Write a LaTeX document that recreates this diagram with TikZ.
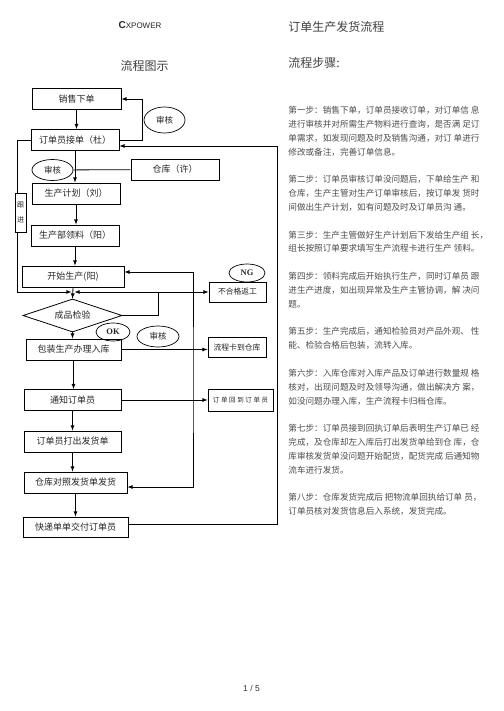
\documentclass[tikz,border=0pt]{standalone}
\usepackage{fontspec}
\setmainfont{Liberation Serif}
\newfontfamily\cjk{Noto Sans CJK SC}
\newfontfamily\arial{Liberation Sans}
\usetikzlibrary{arrows,shapes.geometric}

\tikzset{
  box/.style={draw, line width=0.8pt, minimum height=21pt, inner sep=0pt, text=black!85, font=\cjk\fontsize{9}{11}\selectfont},
  smallbox/.style={box, minimum height=20pt, font=\cjk\fontsize{7.8}{9}\selectfont},
  oval/.style={ellipse, draw, line width=0.7pt, inner sep=0pt, text=black!85, font=\cjk\fontsize{8.5}{10}\selectfont},
  steptext/.style={anchor=north west, align=left, inner sep=0pt, text=black!70, font=\cjk\fontsize{8.6}{13.83}\selectfont},
  heading/.style={inner sep=0pt, text=black!75, font=\cjk\fontsize{12}{14}\selectfont},
}

\begin{document}
\begin{tikzpicture}[x=1pt, y=-1pt, >=latex, line width=0.8pt]
  \useasboundingbox (0,0) rectangle (503,711);
  \fill[white] (0,0) rectangle (503,711);

  % headings
  \node[inner sep=0pt, text=black!85] (logo) at (140,25) {\arial\fontsize{10}{12}\selectfont\textbf{C}\fontsize{8}{10}\selectfont XPOWER};
  \node[heading] (charttitle) at (144.5,66) {流程图示};
  \node[heading, anchor=west] (doctitle) at (288,27) {订单生产发货流程};
  \node[heading, anchor=west] (stepstitle) at (288,63) {流程步骤:};

  % flow chart
  \node[box, minimum width=89pt] (sale)    at (76.5,99)   {销售下单};
  \node[box, minimum width=88pt] (receive) at (75,140)    {订单员接单（杜）};
  \node[oval, minimum width=41pt, minimum height=26pt] (check1) at (164.5,120) {审核};
  \node[oval, minimum width=41pt, minimum height=21pt] (check2) at (52.5,170) {审核};
  \node[box, minimum width=88pt] (store)   at (175,169.5) {仓库（许）};
  \node[box, minimum width=88pt] (plan)    at (76,193.5)  {生产计划（刘）};
  \node[box, minimum width=88pt] (pick)    at (75,235.5)  {生产部领料（阳）};
  \node[box, minimum width=102pt] (start)  at (73,276.5)  {开始生产(阳)};
  \node[diamond, draw, aspect=3, inner sep=0pt, minimum width=99pt, minimum height=33pt,
        text=black!85, font=\cjk\fontsize{9}{11}\selectfont] (inspect) at (72.5,315.5) {成品检验};
  \node[oval, minimum width=34pt, minimum height=18pt, font=\fontsize{8.5}{10}\selectfont\bfseries] (ok) at (113,332) {OK};
  \node[oval, minimum width=42pt, minimum height=21pt] (check3) at (158,336.5) {审核};
  \node[box, minimum width=95pt] (pack)    at (73.5,349.5) {包装生产办理入库};
  \node[box, minimum width=97pt] (notify)  at (72.5,400)   {通知订单员};
  \node[box, minimum width=97pt] (print)   at (72.5,441.5) {订单员打出发货单};
  \node[box, minimum width=103pt] (ship)   at (75.5,482.5) {仓库对照发货单发货};
  \node[box, minimum width=105pt, minimum height=20pt] (express) at (75.5,527) {快递单单交付订单员};

  \node[smallbox, minimum width=57pt] (rework) at (237.5,292) {不合格返工};
  \node[oval, minimum width=36pt, minimum height=18pt, font=\fontsize{8.5}{10}\selectfont\bfseries] (ng) at (247,273) {NG};
  \node[smallbox, minimum width=58pt] (card) at (237,347.5) {流程卡到仓库};
  \node[smallbox, minimum width=65pt, minimum height=22pt, font=\cjk\fontsize{6.5}{8}\selectfont\addfontfeature{LetterSpace=25}] (back) at (240.5,400) {订单回到订单员};
  \node[draw, line width=0.7pt, minimum width=11pt, minimum height=39pt, inner sep=0pt, align=center,
        text=black!85, font=\cjk\fontsize{7}{15}\selectfont] (follow) at (20.5,212.5) {跟\\进};

  \coordinate (merge) at (73,292);
  \coordinate (fork)  at (158,292);
  \coordinate (riser) at (193,380);
  \coordinate (rim)   at (277,146);

  % main column
  \foreach \a/\b in {sale/receive, receive/plan, plan/pick, pick/start, inspect/pack,
                     pack/notify, notify/print, print/ship, ship/express}
    \draw[->] (\a.south) -- (\a.south |- \b.north);
  \draw[->] (start.south) -- (inspect.north);

  % loops and side branches
  \draw[->] (receive.east) -| ([xshift=-1pt]check1.west) |- (sale.east);
  \draw (check2) -- (store);
  \draw (receive.west) -| ([xshift=-3.5pt]follow.north);
  \draw[->] ([xshift=-3.5pt]follow.south) |- ([xshift=-1.5pt]merge);
  \draw (inspect.east) -| (fork);
  \draw[->] (fork) -- ([xshift=1.5pt]merge);
  \draw[->] (fork) -- (rework.west);
  \draw[->] (pack.east) -- (pack.east -| card.west);
  \draw[->] (notify.east) -- (notify.east -| back.west);
  \draw[<->] ([yshift=4.5pt]start.east) -| (riser) |- ([yshift=-4.5pt]ship.east);
  \draw[->] ([yshift=3pt]express.east) -| (rim) -- (rim -| receive.east);

  % steps
  \node[steptext] (step1) at (288,106) {第一步：销售下单，订单员接收订单，对订单信 息\\
    进行审核并对所需生产物料进行查询，是否满 足订\\
    单需求，如发现问题及时及销售沟通，对订 单进行\\
    修改或备注，完善订单信息。};
  \node[steptext] (step2) at (288,175) {第二步：订单员审核订单没问题后，下单给生产 和\\
    仓库，生产主管对生产订单审核后，按订单发 货时\\
    间做出生产计划，如有问题及时及订单员沟 通。};
  \node[steptext] (step3) at (288,230.5) {第三步：生产主管做好生产计划后下发给生产组 长，\\
    组长按照订单要求填写生产流程卡进行生产 领料。};
  \node[steptext] (step4) at (288,272) {第四步：领料完成后开始执行生产，同时订单员 跟\\
    进生产进度，如出现异常及生产主管协调，解 决问\\
    题。};
  \node[steptext] (step5) at (288,327) {第五步：生产完成后，通知检验员对产品外观、 性\\
    能、检验合格后包装，流转入库。};
  \node[steptext] (step6) at (288,369) {第六步：入库仓库对入库产品及订单进行数量规 格\\
    核对，出现问题及时及领导沟通，做出解决方 案，\\
    如没问题办理入库，生产流程卡归档仓库。};
  \node[steptext] (step7) at (288,424) {第七步：订单员接到回执订单后表明生产订单已 经\\
    完成，及仓库却左入库后打出发货单给到仓 库，仓\\
    库审核发货单没问题开始配货，配货完成 后通知物\\
    流车进行发货。};
  \node[steptext] (step8) at (288,493) {第八步：仓库发货完成后 把物流单回执给订单 员，\\
    订单员核对发货信息后入系统，发货完成。};

  \node[inner sep=0pt, text=black!80, font=\arial\fontsize{8.5}{10}\selectfont] (page) at (251.5,688) {1 / 5};
\end{tikzpicture}
\end{document}
